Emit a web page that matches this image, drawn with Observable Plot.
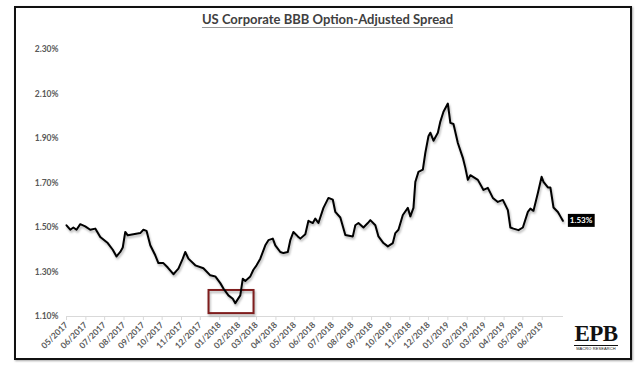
<!DOCTYPE html>
<html><head><meta charset="utf-8">
<script src="https://cdn.jsdelivr.net/npm/d3@7"></script>
<script src="https://cdn.jsdelivr.net/npm/@observablehq/plot@0.6"></script>
<style>
body{margin:0;background:#fff;}
#wrap{position:relative;width:640px;height:370px;overflow:hidden;font-family:Lato,"Open Sans",sans-serif;}
#frame{position:absolute;left:14px;top:6px;width:614px;height:350px;border:2px solid #111;box-shadow:1px 1px 2px rgba(0,0,0,0.35);}
#title{position:absolute;left:0;width:655px;top:11px;text-align:center;font-weight:bold;font-size:13px;color:#404040;text-decoration:underline;text-decoration-color:#9a9a9a;text-underline-offset:3px;}
#chart{position:absolute;left:0;top:0;}
#logo{position:absolute;left:574px;top:323px;width:44px;text-align:center;color:#111;}
#logo .b{font-family:"Liberation Serif","DejaVu Serif",serif;font-weight:bold;font-size:23px;line-height:22px;letter-spacing:-0.5px;border-bottom:1px solid #111;display:inline-block;}
#logo .s{font-family:"Liberation Sans",sans-serif;font-size:4px;line-height:6px;letter-spacing:0.1px;white-space:nowrap;}
</style></head>
<body>
<div id="wrap">
  <div id="frame"></div>
  <div id="chart"></div>
  <div id="title">US Corporate BBB Option-Adjusted Spread</div>
  <div id="logo"><div class="b">EPB</div><div class="s">MACRO RESEARCH</div></div>
</div>
<script>
const dates = ["2017-05-01","2017-05-07","2017-05-12","2017-05-17","2017-05-23","2017-05-31","2017-06-08","2017-06-16","2017-06-24","2017-07-06","2017-07-14","2017-07-20","2017-07-26","2017-07-30","2017-08-03","2017-08-07","2017-08-16","2017-08-27","2017-09-01","2017-09-06","2017-09-12","2017-09-20","2017-09-25","2017-10-03","2017-10-10","2017-10-19","2017-10-27","2017-11-03","2017-11-07","2017-11-12","2017-11-23","2017-12-06","2017-12-17","2017-12-25","2018-01-02","2018-01-07","2018-01-15","2018-01-22","2018-01-26","2018-02-03","2018-02-07","2018-02-11","2018-02-19","2018-02-24","2018-03-01","2018-03-07","2018-03-15","2018-03-20","2018-03-27","2018-03-31","2018-04-08","2018-04-13","2018-04-20","2018-04-24","2018-04-29","2018-05-06","2018-05-10","2018-05-18","2018-05-23","2018-05-30","2018-06-03","2018-06-08","2018-06-16","2018-06-24","2018-07-01","2018-07-05","2018-07-13","2018-07-21","2018-08-02","2018-08-06","2018-08-11","2018-08-19","2018-08-26","2018-08-30","2018-09-07","2018-09-12","2018-09-20","2018-09-27","2018-10-05","2018-10-09","2018-10-14","2018-10-21","2018-10-29","2018-11-02","2018-11-07","2018-11-10","2018-11-15","2018-11-22","2018-11-26","2018-12-01","2018-12-04","2018-12-09","2018-12-16","2018-12-20","2018-12-25","2019-01-01","2019-01-05","2019-01-10","2019-01-17","2019-01-25","2019-01-29","2019-02-02","2019-02-06","2019-02-18","2019-02-27","2019-03-06","2019-03-14","2019-03-22","2019-03-30","2019-04-07","2019-04-11","2019-04-16","2019-04-24","2019-05-01","2019-05-09","2019-05-13","2019-05-18","2019-05-25","2019-05-31","2019-06-03","2019-06-10","2019-06-14","2019-06-19","2019-06-26","2019-06-30","2019-07-04"];
const spread = [1.51,1.49,1.50,1.49,1.515,1.505,1.49,1.495,1.457,1.43,1.40,1.37,1.39,1.41,1.48,1.465,1.47,1.475,1.49,1.485,1.42,1.375,1.34,1.34,1.32,1.29,1.315,1.36,1.39,1.36,1.33,1.317,1.285,1.28,1.25,1.226,1.195,1.18,1.16,1.195,1.27,1.26,1.28,1.31,1.33,1.36,1.42,1.443,1.45,1.42,1.39,1.385,1.39,1.443,1.48,1.46,1.45,1.47,1.53,1.52,1.54,1.52,1.588,1.633,1.625,1.57,1.545,1.466,1.46,1.51,1.52,1.50,1.52,1.533,1.51,1.46,1.43,1.415,1.43,1.475,1.49,1.556,1.588,1.55,1.588,1.705,1.75,1.76,1.836,1.91,1.926,1.89,1.926,1.976,2.02,2.057,1.97,1.965,1.88,1.813,1.768,1.714,1.735,1.714,1.669,1.678,1.633,1.615,1.624,1.578,1.50,1.495,1.488,1.50,1.57,1.585,1.575,1.655,1.728,1.705,1.68,1.68,1.59,1.57,1.55,1.53];
const yTicks = [1.10,1.30,1.50,1.70,1.90,2.10,2.30];
const xTickDates = ["2017-05-01","2017-06-01","2017-07-01","2017-08-01","2017-09-01","2017-10-01","2017-11-01","2017-12-01","2018-01-01","2018-02-01","2018-03-01","2018-04-01","2018-05-01","2018-06-01","2018-07-01","2018-08-01","2018-09-01","2018-10-01","2018-11-01","2018-12-01","2019-01-01","2019-02-01","2019-03-01","2019-04-01","2019-05-01","2019-06-01"];
const xTickLabels = ["05/2017","06/2017","07/2017","08/2017","09/2017","10/2017","11/2017","12/2017","01/2018","02/2018","03/2018","04/2018","05/2018","06/2018","07/2018","08/2018","09/2018","10/2018","11/2018","12/2018","01/2019","02/2019","03/2019","04/2019","05/2019","06/2019"];
const boxStart = "2017-12-15", boxEnd = "2018-02-25", boxLow = 1.113, boxHigh = 1.217;

const data = dates.map((d, i) => ({date: new Date(d), value: spread[i]}));
const xTicks = xTickDates.map(d => new Date(d));
const box = [{x1: new Date(boxStart), x2: new Date(boxEnd), y1: boxLow, y2: boxHigh}];
const last = data[data.length - 1];

const plot = Plot.plot({
  width: 640, height: 370,
  marginLeft: 66, marginRight: 77, marginTop: 49, marginBottom: 54,
  x: {type: "utc", domain: [new Date("2017-05-01"), new Date("2019-07-05")]},
  y: {domain: [1.10, 2.30]},
  style: {fontFamily: "Lato, 'Open Sans', sans-serif", fontSize: "8.5px", fontWeight: "bold", color: "#595959", background: "transparent", overflow: "visible"},
  marks: [
    Plot.ruleY([1.10], {stroke: "#d9d9d9", strokeWidth: 1}),
    Plot.axisY({ticks: yTicks, tickFormat: d => d.toFixed(2) + "%", tickSize: 0, tickPadding: 8, label: null, fill: "#595959"}),
    Plot.axisX({ticks: xTicks, tickFormat: d => xTickLabels[xTicks.findIndex(t => +t === +d)], tickRotate: -45, tickSize: 4, tickPadding: 3, stroke: "#d9d9d9", fill: "#595959", label: null}),
    Plot.rect(box, {x1: "x1", x2: "x2", y1: "y1", y2: "y2", stroke: "#7f1d1d", strokeWidth: 2, fill: "none"}),
    Plot.line(data, {x: "date", y: "value", stroke: "#000", strokeWidth: 2, strokeLinejoin: "round"}),
    Plot.text([last], {x: "date", y: "value", text: d => d.value.toFixed(2) + "%", textAnchor: "start", dx: 7, fill: "white", fontSize: 8, fontWeight: "bold"})
  ]
});
document.getElementById("chart").appendChild(plot);

const svg = d3.select(plot);
svg.selectAll('g[aria-label="line"], g[aria-label="rect"]').style("filter", "drop-shadow(1.5px 2px 1px rgba(0,0,0,0.3))");
const tg = svg.selectAll('g[aria-label="text"]');
tg.each(function() {
  const g = d3.select(this);
  g.selectAll("text").each(function() {
    const bb = this.getBBox();
    d3.select(this.parentNode).insert("rect", () => this)
      .attr("x", bb.x - 2).attr("y", bb.y - 1.5)
      .attr("width", bb.width + 4).attr("height", bb.height + 3)
      .attr("fill", "#000")
      .attr("transform", this.getAttribute("transform"));
  });
});
</script>
</body></html>
